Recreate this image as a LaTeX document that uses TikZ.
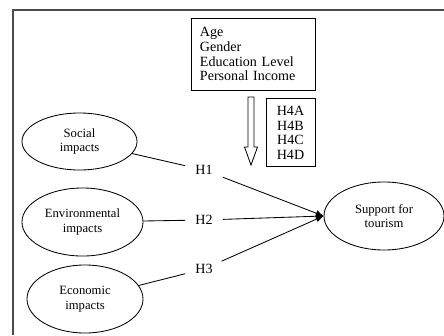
\documentclass[tikz,border=0pt]{standalone}
\usepackage{fontspec}
\setmainfont{Liberation Serif}
\usetikzlibrary{arrows.meta,positioning,shapes.geometric}

\begin{document}
\begin{tikzpicture}[x=0.025cm, y=-0.025cm,
  factor/.style={ellipse, draw, semithick, align=center, inner sep=0pt, font=\fontsize{9}{10.3}\selectfont},
  box/.style={rectangle, draw, semithick, align=left, font=\fontsize{10}{10.6}\selectfont},
  hyp/.style={inner xsep=0.25cm, inner ysep=2pt, font=\fontsize{10}{12}\selectfont},
  link/.style={semithick},
  rel/.style={-{Latex[length=5.5pt, width=4.5pt]}, semithick}
]
\useasboundingbox (0,0) rectangle (444,335);
\draw[gray!60!black, line width=1.2pt] (444,10) -- (13,10) -- (13,335);

\node[box, text width=2.65cm, inner xsep=0.225cm, minimum height=1.8cm] (demo) at (253,54) {Age\\Gender\\Education Level\\Personal Income};
\node[box, align=center, minimum width=1.225cm, minimum height=1.7cm, below left=0.2cm and 0cm of demo.south east] (moder) {H4A\\H4B\\H4C\\H4D};

% hollow arrow
\draw[semithick] (248,97) -- (254,97) -- (254,147) -- (257.5,147) -- (251,165) -- (244.5,147) -- (248,147) -- cycle;

\node[factor, minimum width=2.875cm, minimum height=1.425cm] (social) at (79.5,141.5) {Social\\impacts};
\node[factor, minimum width=3.025cm, minimum height=1.7cm] (environ) at (82.5,222) {Environmental\\impacts};
\node[factor, minimum width=2.9cm, minimum height=1.7cm] (economic) at (85,299) {Economic\\impacts};
\node[factor, minimum width=3cm, minimum height=1.7cm] (support) at (384,216) {Support for\\tourism};

\node[hyp] (h1) at (204,170) {H1};
\node[hyp] (h2) at (204,220) {H2};
\node[hyp] (h3) at (204,269) {H3};

\draw[link] (social) -- (h1);
\draw[link] (environ) -- (h2);
\draw[link] (economic) -- (h3);
\draw[rel] (h1) -- (support.west);
\draw[rel] (h2) -- (support.west);
\draw[rel] (h3) -- (support.west);
\end{tikzpicture}
\end{document}
